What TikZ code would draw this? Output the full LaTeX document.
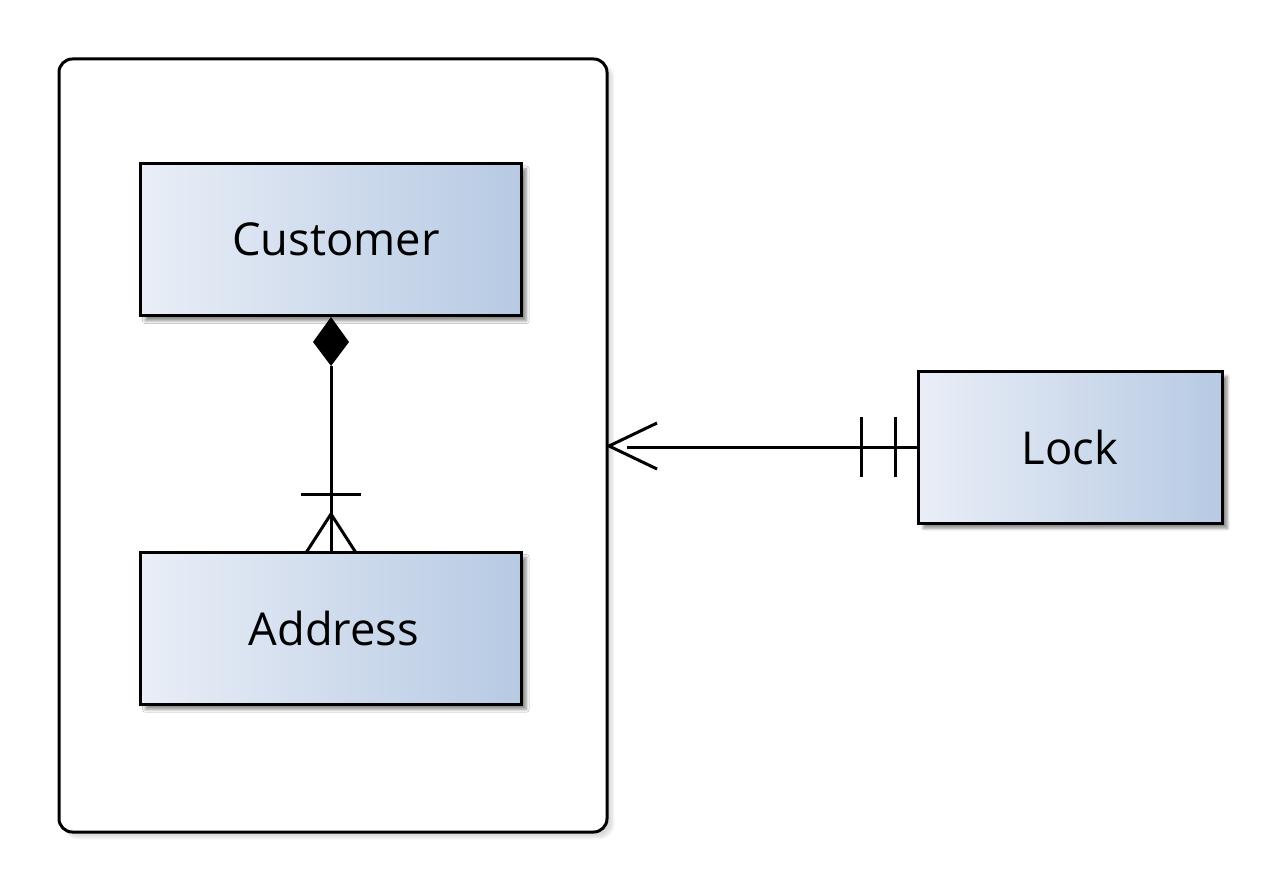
\documentclass[tikz,border=0pt]{standalone}
\usepackage{fontspec}
\setmainfont{Open Sans}
\usetikzlibrary{shadows.blur}
\definecolor{gl}{HTML}{E9EEF7}
\definecolor{gr}{HTML}{B7CAE3}
\tikzset{
  x=0.75pt,y=-0.75pt,
  ent/.style={draw=black,line width=2.25pt,left color=gl,right color=gr,
    minimum width=381*0.75pt,minimum height=152*0.75pt,inner sep=0pt,
    font=\fontsize{34}{40}\selectfont,
    blur shadow={shadow xshift=4pt,shadow yshift=-4pt,shadow blur steps=8,shadow opacity=45}},
  conn/.style={line width=2.25pt},
}
\begin{document}
\begin{tikzpicture}
\useasboundingbox (0,0) rectangle (1280,892);
\node[draw=black,line width=2.25pt,rounded corners=10pt,fill=white,
  minimum width=548*0.75pt,minimum height=773*0.75pt,inner sep=0pt,
  blur shadow={shadow xshift=4pt,shadow yshift=-4pt,shadow blur steps=10,shadow opacity=15}]
  (grp) at (333,445.5) {};
\node[ent] (cust) at (330.5,239.5) {\hspace*{8pt}\raisebox{-2pt}{Customer}};
\node[ent] (addr) at (330.5,628) {\hspace*{5pt}\raisebox{-2pt}{Address}};
\node[ent,minimum width=304*0.75pt] (lock) at (1070,447) {\raisebox{-2pt}{Lock}};
% Customer - Address
\coordinate (dtop) at (331,317);
\coordinate (dbot) at (331,366);
\draw[conn] (dbot) -- (331,552);
\fill (dtop) -- (349,342) -- (dbot) -- (313,342) -- cycle;
\draw[conn] (301,494) -- (361,494);
\draw[conn] (306.5,552) -- (331,514) -- (355.5,552);
% Lock - group
\coordinate (tip) at (609,446);
\coordinate (lend) at (627,447);
\draw[conn] (lock.west) -- (lend);
\draw[conn] (657,423) -- (tip) -- (657,469);
\draw[conn] (861,417) -- (861,477);
\draw[conn] (895,417) -- (895,477);
\end{tikzpicture}
\end{document}
